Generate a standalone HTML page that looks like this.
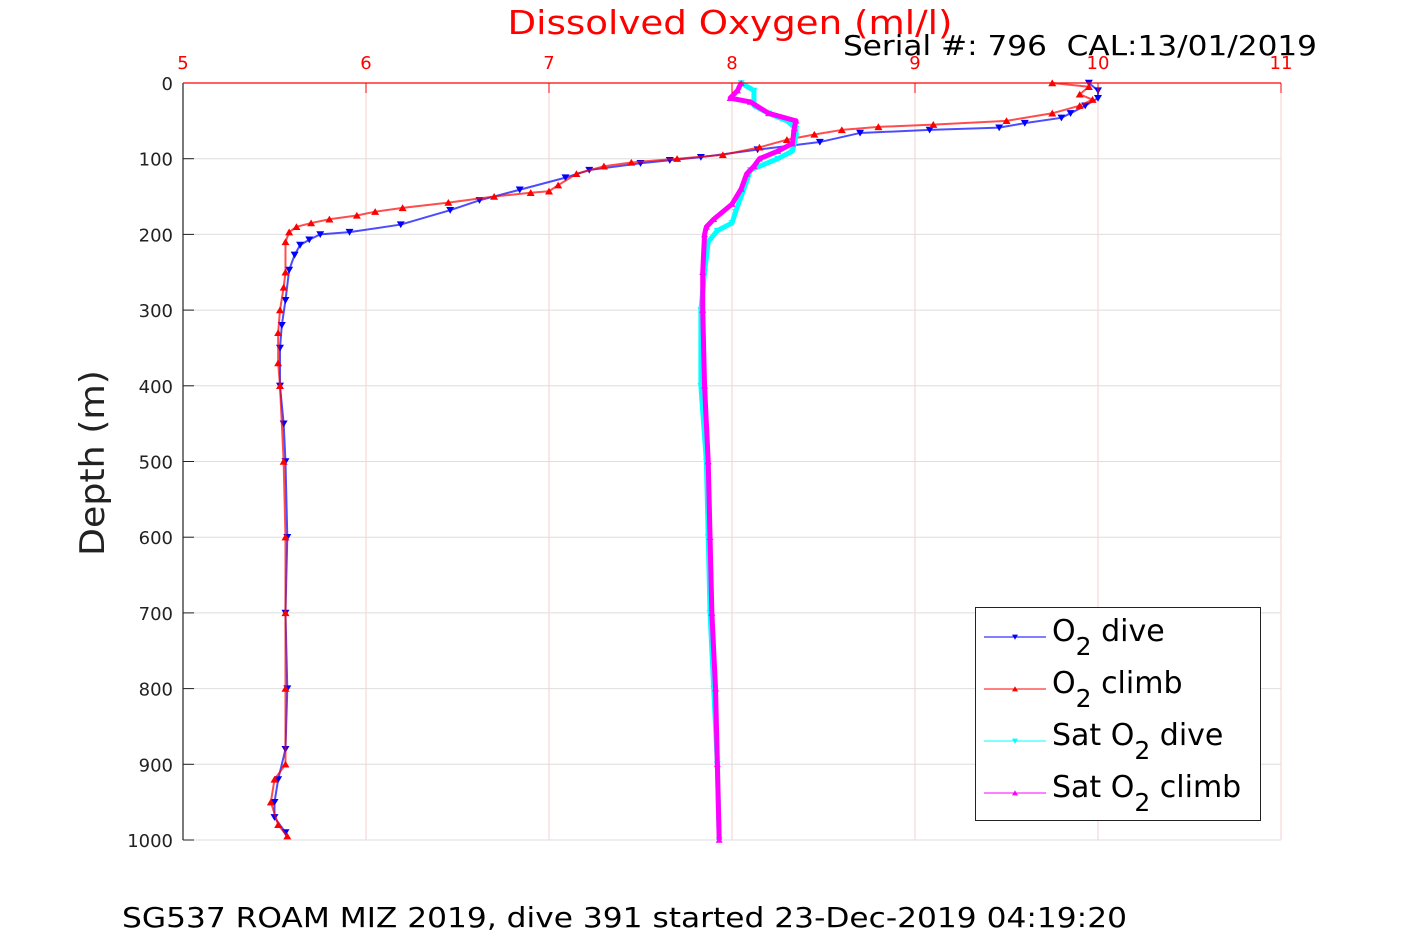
<!DOCTYPE html>
<html><head><meta charset="utf-8"><style>
body{margin:0;background:#fff;}
svg{display:block;font-family:"DejaVu Sans","Liberation Sans",sans-serif;}
</style></head><body>
<svg id="chart" width="1417" height="945" viewBox="0 0 1417 945">
<rect width="1417" height="945" fill="#fff"/>
<g id="grid"></g>
<g id="series"></g>
<g id="axes"></g>
<text x="730" y="34" font-size="33" fill="#ff0000" text-anchor="middle" textLength="445" lengthAdjust="spacingAndGlyphs">Dissolved Oxygen (ml/l)</text>
<text x="843" y="55" font-size="28" fill="#000" textLength="474" lengthAdjust="spacingAndGlyphs" xml:space="preserve">Serial #: 796  CAL:13/01/2019</text>
<text transform="translate(104,463) rotate(-90)" font-size="34" fill="#222" text-anchor="middle" textLength="186" lengthAdjust="spacingAndGlyphs">Depth (m)</text>
<text x="122" y="927" font-size="28" fill="#000" textLength="1005" lengthAdjust="spacingAndGlyphs">SG537 ROAM MIZ 2019, dive 391 started 23-Dec-2019 04:19:20</text>
<g>
<rect x="975.5" y="607.5" width="285" height="213" fill="#fff" stroke="#222" stroke-width="1"/>
<g id="legend-items"></g>
</g>
</svg>
<script>
const xTicks=[5,6,7,8,9,10,11];
const yTicks=[0,100,200,300,400,500,600,700,800,900,1000];
const diveDepth=[0,10,20,30,40,46,53,59,62,66,78,88,98,102,106,115,125,141,155,168,187,197,200,207,214,227,247,287,320,350,400,450,500,600,700,800,880,920,950,970,990];
const diveO2=[9.95,10.0,10.0,9.93,9.85,9.8,9.6,9.46,9.08,8.7,8.48,8.14,7.83,7.66,7.5,7.22,7.09,6.84,6.62,6.46,6.19,5.91,5.75,5.69,5.64,5.61,5.58,5.56,5.54,5.53,5.53,5.55,5.56,5.57,5.56,5.57,5.56,5.52,5.5,5.5,5.56];
const climbDepth=[0,5,15,22,30,40,50,55,58,62,68,75,85,95,100,105,110,120,135,143,145,150,158,165,170,175,180,185,190,197,210,250,270,300,330,370,400,500,600,700,800,900,920,950,980,995];
const climbO2=[9.75,9.95,9.9,9.97,9.9,9.75,9.5,9.1,8.8,8.6,8.45,8.3,8.15,7.95,7.7,7.45,7.3,7.15,7.05,7.0,6.9,6.7,6.45,6.2,6.05,5.95,5.8,5.7,5.62,5.58,5.56,5.56,5.55,5.53,5.52,5.52,5.53,5.55,5.56,5.56,5.56,5.56,5.5,5.48,5.52,5.57];
const satDiveDepth=[0,10,30,40,50,60,70,90,100,115,130,150,170,185,195,210,250,300,400,500,600,700,800,900,1000];
const satDiveO2=[8.05,8.12,8.12,8.2,8.3,8.35,8.35,8.33,8.25,8.1,8.08,8.05,8.02,8.0,7.92,7.87,7.85,7.83,7.83,7.86,7.87,7.88,7.9,7.92,7.93];
const satClimbDepth=[0,10,20,25,40,50,60,80,90,100,110,120,140,160,180,190,200,250,300,400,500,600,700,800,900,1000];
const satClimbO2=[8.05,8.03,7.99,8.1,8.2,8.35,8.34,8.33,8.25,8.15,8.12,8.08,8.05,8.0,7.9,7.86,7.85,7.84,7.84,7.85,7.87,7.88,7.89,7.91,7.92,7.93];

const X0=183,X1=1281,Y0=83,Y1=840;
const xs=v=>X0+(v-5)/6*(X1-X0);
const ys=d=>Y0+d/1000*(Y1-Y0);
const NS="http://www.w3.org/2000/svg";
function mk(tag,attrs,parent){const e=document.createElementNS(NS,tag);for(const k in attrs)e.setAttribute(k,attrs[k]);parent.appendChild(e);return e;}
const grid=document.getElementById('grid'),axes=document.getElementById('axes'),ser=document.getElementById('series');
xTicks.forEach(t=>{
  const l=mk('line',{x1:xs(t),x2:xs(t),y1:Y0,y2:Y1,stroke:'#f6d0d0','stroke-width':1},grid);
  
  
  const tk=mk('line',{x1:xs(t),x2:xs(t),y1:Y0,y2:Y0+10,stroke:'#ff0000','stroke-width':1},axes);
  
  
  const tx=mk('text',{x:xs(t),y:Y0-14,'font-size':18,fill:'#ff0000','text-anchor':'middle'},axes);
  tx.textContent=t;
  
  
});
yTicks.forEach(t=>{
  const l=mk('line',{x1:X0,x2:X1,y1:ys(t),y2:ys(t),stroke:'#dedede','stroke-width':1},grid);
  
  
  const tk=mk('line',{x1:X0,x2:X0+11,y1:ys(t),y2:ys(t),stroke:'#222','stroke-width':1},axes);
  
  
  const tx=mk('text',{x:X0-10,y:ys(t)+7,'font-size':18,fill:'#222','text-anchor':'end'},axes);
  tx.textContent=t;
  
  
});
const ax=mk('line',{x1:X0,x2:X0,y1:Y0,y2:Y1,stroke:'#222','stroke-width':1.2},axes);


const tx2=mk('line',{x1:X0,x2:X1,y1:Y0,y2:Y0,stroke:'#ff0000','stroke-width':1.2},axes);



function tri(x,y,down,s){return down?`${x-s},${y-s*0.8} ${x+s},${y-s*0.8} ${x},${y+s*0.9}`:`${x-s},${y+s*0.8} ${x+s},${y+s*0.8} ${x},${y-s*0.9}`;}
function series(name,depths,vals,color,down,lw,ms,op){
  const g=mk('g',{},ser);
  
  
  const pts=depths.map((d,i)=>xs(vals[i])+','+ys(d)).join(' ');
  mk('polyline',{points:pts,fill:'none',stroke:color,'stroke-width':lw,'stroke-linejoin':'round','stroke-opacity':op},g);
  depths.forEach((d,i)=>{
    const p=mk('polygon',{points:tri(xs(vals[i]),ys(d),down,ms),fill:color},g);
    
    
  });
}
series('o2-dive-series',diveDepth,diveO2,'#0000ff',true,2,4,0.7);
series('o2-climb-series',climbDepth,climbO2,'#ff0000',false,2,4,0.7);
series('sat-o2-dive-series',satDiveDepth,satDiveO2,'#00ffff',true,5,3.5,1);
series('sat-o2-climb-series',satClimbDepth,satClimbO2,'#ff00ff',false,5,3.5,1);

const legNames=['legend-o2-dive','legend-o2-climb','legend-sat-o2-dive','legend-sat-o2-climb'];
const legColors=['#0000ff','#ff0000','#00ffff','#ff00ff'];
const legPre=['O','O','Sat O','Sat O'];
const legPost=[' dive',' climb',' dive',' climb'];
const li=document.getElementById('legend-items');
legNames.forEach((n,i)=>{
  const y=637+i*52;
  const g=mk('g',{},li);
  
  
  mk('line',{x1:984,x2:1046,y1:y,y2:y,stroke:legColors[i],'stroke-width':1},g);
  mk('polygon',{points:tri(1015,y,i%2===0,3),fill:legColors[i]},g);
  const t=mk('text',{x:1052,y:y+4,'font-size':30,fill:'#000'},g);
  const a=mk('tspan',{},t);a.textContent=legPre[i];
  const b=mk('tspan',{dy:14,'font-size':25},t);b.textContent='2';
  const c=mk('tspan',{dy:-14},t);c.textContent=legPost[i];
});
</script>
</body></html>
